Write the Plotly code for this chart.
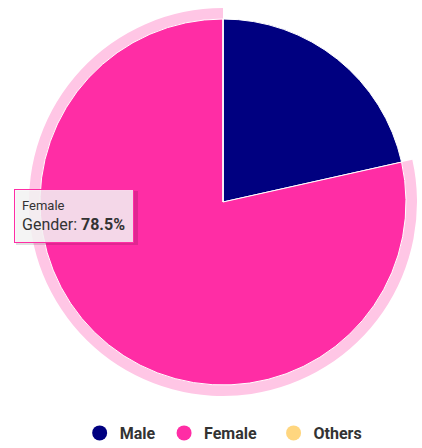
import plotly.graph_objects as go

labels = ["Male", "Female", "Others"]
values = [21.5, 78.5, 0.0]
colors = ["#000080", "#ff2da5", "#ffd67f"]
legend_pad = [1, 3, 0]

hover_label = "Female"
hover_value = 78.5

W, H = 422, 448
cx, cy, r = 223, 202, 183
halo = 11


def dom(rad):
    return dict(x=[(cx - rad) / W, (cx + rad) / W],
                y=[(H - cy - rad) / H, (H - cy + rad) / H])


fig = go.Figure()

# halo behind the hovered slice
fig.add_trace(go.Pie(
    labels=labels, values=values, sort=False, direction="clockwise", rotation=0,
    marker=dict(colors=["rgba(0,0,0,0)" if l != hover_label else "#ffc6e5" for l in labels],
                line=dict(width=0)),
    textinfo="none", hoverinfo="none", showlegend=False, domain=dom(r + halo)
))

fig.add_trace(go.Pie(
    labels=labels, values=values, sort=False, direction="clockwise", rotation=0,
    marker=dict(colors=colors, line=dict(color="white", width=1)),
    textinfo="none", hoverinfo="none", showlegend=False, domain=dom(r)
))

# legend with round markers
for l, c, p in zip(labels, colors, legend_pad):
    fig.add_trace(go.Scatter(
        x=[None], y=[None], mode="markers", name=l + "\u00a0" * p,
        marker=dict(color=c, size=15, symbol="circle")
    ))

# tooltip shadow + box
fig.add_shape(type="rect", xref="paper", yref="paper", layer="above",
              x0=16 / W, x1=138 / W, y0=1 - 245 / H, y1=1 - 191 / H,
              fillcolor="rgba(0,0,0,0.12)", line=dict(width=0))
fig.add_annotation(
    xref="paper", yref="paper", x=14 / W, y=1 - 189 / H,
    xanchor="left", yanchor="top", showarrow=False, align="left",
    text=(f'<span style="font-size:13px">{hover_label}</span><br>'
          f'<span style="font-size:16px">Gender: <b>{hover_value}%</b></span>'),
    font=dict(family="Roboto", color="#333333", size=15),
    bgcolor="rgba(247,247,247,0.85)", bordercolor="#ff2da5", borderwidth=1,
    borderpad=7, width=104, height=38
)

fig.update_layout(
    width=W, height=H,
    margin=dict(l=0, r=0, t=0, b=0, autoexpand=False),
    paper_bgcolor="white", plot_bgcolor="white",
    font=dict(family="Roboto", color="#333333"),
    xaxis=dict(visible=False), yaxis=dict(visible=False),
    legend=dict(orientation="h", x=0.53, xanchor="center", y=15 / H, yanchor="middle",
                font=dict(size=16, family="Roboto", weight="bold", color="#333333"),
                itemwidth=30),
    hovermode=False
)

fig.write_html("out.html", config={"displayModeBar": False},
               post_script="document.body.style.margin='0';")
